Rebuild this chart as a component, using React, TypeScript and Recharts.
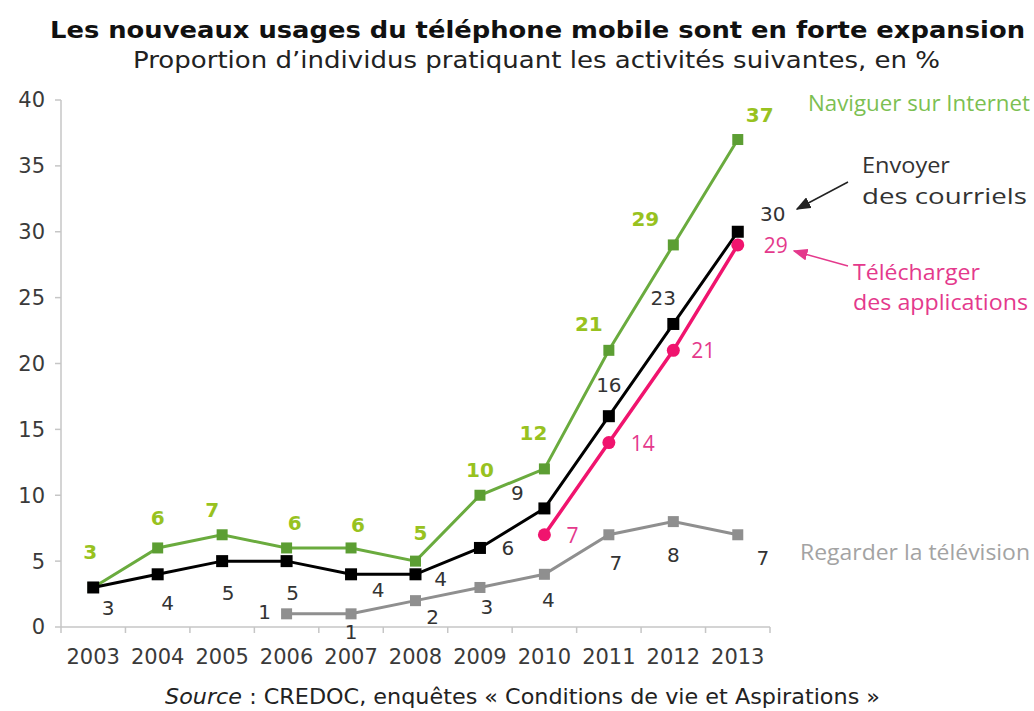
import { Line, LineChart, XAxis, YAxis } from "recharts";

document.body.style.margin = "0";

const years = [2003, 2004, 2005, 2006, 2007, 2008, 2009, 2010, 2011, 2012, 2013];
const naviguer = [3, 6, 7, 6, 6, 5, 10, 12, 21, 29, 37];
const courriels = [3, 4, 5, 5, 4, 4, 6, 9, 16, 23, 30];
const applications = [null, null, null, null, null, null, null, 7, 14, 21, 29];
const television = [null, null, null, 1, 1, 2, 3, 4, 7, 8, 7];
const yTicks = [0, 5, 10, 15, 20, 25, 30, 35, 40];

// label offsets (dx, dy) relative to each point
const greenOffsets = [[-3, -35], [0, -30], [-10, -25], [8, -25], [7, -23], [5, -28], [0, -25], [-11, -36], [-20, -26], [-28, -26], [22, -25]];
const blackOffsets = [[15, 21], [10, 29], [6, 32], [6, 32], [27, 16], [25, 5], [28, 0], [-27, -15], [0, -31], [-10, -26], [35, -18]];
const grayOffsets = [[0, 0], [0, 0], [0, 0], [-22, -2], [0, 18], [17, 16], [7, 20], [4, 26], [7, 28], [0, 33], [25, 23]];
const pinkOffsets = [[0, 0], [0, 0], [0, 0], [0, 0], [0, 0], [0, 0], [0, 0], [28, 0], [34, 0], [30, 0], [38, 0]];

const data = years.map((year, i) => ({
  year,
  naviguer: naviguer[i],
  courriels: courriels[i],
  applications: applications[i],
  television: television[i],
}));

const W = 1034;
const H = 711;
const MARGIN = { top: 100, right: 264, bottom: 54, left: 0 };
const Y_WIDTH = 61;
const BAND = (W - MARGIN.right - Y_WIDTH) / years.length;
const AXIS_COLOR = "#c6c6c6";
const FONT = "'DejaVu Sans', Verdana, sans-serif";
const SIDE_FONT = "'Open Sans', sans-serif";

function makeDot(
  shape: "square" | "circle",
  size: number,
  fill: string,
  offsets: number[][],
  labelFill: string,
  labelWeight: string | number,
  labelFont: string,
  labelSize: number,
) {
  return (props: any) => {
    const { cx, cy, index, value } = props;
    if (cx == null || cy == null || value == null) return <g key={`d-${index}`} />;
    const [dx, dy] = offsets[index];
    return (
      <g key={`d-${index}`}>
        {shape === "square" ? (
          <rect x={cx - size / 2} y={cy - size / 2} width={size} height={size} fill={fill} />
        ) : (
          <circle cx={cx} cy={cy} r={size / 2} fill={fill} />
        )}
        <text
          x={cx + dx}
          y={cy + dy}
          textAnchor="middle"
          dominantBaseline="central"
          fill={labelFill}
          fontWeight={labelWeight}
          fontFamily={labelFont}
          fontSize={labelSize}
        >
          {value}
        </text>
      </g>
    );
  };
}

function XTick(props: any) {
  const { x, y, payload, index } = props;
  return (
    <g>
      <text x={x} y={y + 30} textAnchor="middle" dominantBaseline="central" fill="#3a3a3a" fontFamily={FONT} fontSize={21}>
        {payload.value}
      </text>
      <line x1={x + BAND / 2} x2={x + BAND / 2} y1={y} y2={y + 6} stroke={AXIS_COLOR} strokeWidth={1.5} />
      {index === 0 && (
        <line x1={x - BAND / 2} x2={x - BAND / 2} y1={y} y2={y + 6} stroke={AXIS_COLOR} strokeWidth={1.5} />
      )}
    </g>
  );
}

export default function App() {
  return (
    <div style={{ position: "relative", width: W, height: H, background: "#fff" }}>
      <LineChart width={W} height={H} data={data} margin={MARGIN}>
        <XAxis
          dataKey="year"
          type="number"
          domain={[2002.5, 2013.5]}
          ticks={years}
          interval={0}
          tickLine={false}
          tickSize={0}
          tickMargin={0}
          height={30}
          axisLine={{ stroke: AXIS_COLOR, strokeWidth: 1.5 }}
          tick={<XTick />}
        />
        <YAxis
          domain={[0, 40]}
          ticks={yTicks}
          interval={0}
          width={Y_WIDTH}
          tickSize={6}
          tickMargin={10}
          axisLine={{ stroke: AXIS_COLOR, strokeWidth: 1.5 }}
          tickLine={{ stroke: AXIS_COLOR, strokeWidth: 1.5 }}
          tick={{ fill: "#3a3a3a", fontFamily: FONT, fontSize: 21 }}
        />
        <Line
          dataKey="television"
          stroke="#8f8f8f"
          strokeWidth={3}
          isAnimationActive={false}
          dot={makeDot("square", 11, "#8f8f8f", grayOffsets, "#333", 400, FONT, 20)}
        />
        <Line
          dataKey="naviguer"
          stroke="#6aab3e"
          strokeWidth={3}
          isAnimationActive={false}
          dot={makeDot("square", 11, "#5c9e33", greenOffsets, "#98c21f", 700, FONT, 20)}
        />
        <Line
          dataKey="applications"
          stroke="#f0146e"
          strokeWidth={3.5}
          isAnimationActive={false}
          dot={makeDot("circle", 13, "#f0146e", pinkOffsets, "#e4398c", 400, SIDE_FONT, 21)}
        />
        <Line
          dataKey="courriels"
          stroke="#000"
          strokeWidth={3}
          isAnimationActive={false}
          dot={makeDot("square", 12, "#000", blackOffsets, "#333", 400, FONT, 20)}
        />
      </LineChart>
      <svg width={W} height={H} style={{ position: "absolute", left: 0, top: 0, pointerEvents: "none" }}>
        <defs>
          <marker id="arrBlack" markerWidth="10" markerHeight="8" refX="9" refY="4" orient="auto">
            <path d="M0,0 L10,4 L0,8 Z" fill="#222" />
          </marker>
          <marker id="arrPink" markerWidth="10" markerHeight="8" refX="9" refY="4" orient="auto">
            <path d="M0,0 L10,4 L0,8 Z" fill="#e4398c" />
          </marker>
        </defs>
        <text x={50} y={30} dominantBaseline="central" fontFamily={FONT} fontWeight={700} fontSize={23} fill="#111" textLength={975} lengthAdjust="spacingAndGlyphs">
          Les nouveaux usages du téléphone mobile sont en forte expansion
        </text>
        <text x={133} y={60} dominantBaseline="central" fontFamily={FONT} fontSize={23} fill="#222" textLength={807} lengthAdjust="spacingAndGlyphs">
          Proportion d’individus pratiquant les activités suivantes, en %
        </text>
        <text x={165} y={697} dominantBaseline="central" fontFamily={FONT} fontSize={21} fill="#222" textLength={715} lengthAdjust="spacingAndGlyphs">
          <tspan fontStyle="italic">Source</tspan> : CREDOC, enquêtes « Conditions de vie et Aspirations »
        </text>
        <text x={808} y={103} dominantBaseline="central" fontFamily={SIDE_FONT} fontSize={21} fill="#7cbf52" textLength={222} lengthAdjust="spacingAndGlyphs">
          Naviguer sur Internet
        </text>
        <text x={862} y={165} dominantBaseline="central" fontFamily={SIDE_FONT} fontSize={21} fill="#333" textLength={88} lengthAdjust="spacingAndGlyphs">
          Envoyer
        </text>
        <text x={862} y={196} dominantBaseline="central" fontFamily={SIDE_FONT} fontSize={21} fill="#333" textLength={165} lengthAdjust="spacingAndGlyphs">
          des courriels
        </text>
        <line x1={848} y1={182} x2={797} y2={209} stroke="#222" strokeWidth={1.5} markerEnd="url(#arrBlack)" />
        <text x={853} y={272} dominantBaseline="central" fontFamily={SIDE_FONT} fontSize={21} fill="#e4398c" textLength={127} lengthAdjust="spacingAndGlyphs">
          Télécharger
        </text>
        <text x={853} y={302} dominantBaseline="central" fontFamily={SIDE_FONT} fontSize={21} fill="#e4398c" textLength={175} lengthAdjust="spacingAndGlyphs">
          des applications
        </text>
        <line x1={848} y1={266} x2={794} y2={251} stroke="#e4398c" strokeWidth={1.5} markerEnd="url(#arrPink)" />
        <text x={800} y={552} dominantBaseline="central" fontFamily={SIDE_FONT} fontSize={21} fill="#a3a3a3" textLength={230} lengthAdjust="spacingAndGlyphs">
          Regarder la télévision
        </text>
      </svg>
    </div>
  );
}
